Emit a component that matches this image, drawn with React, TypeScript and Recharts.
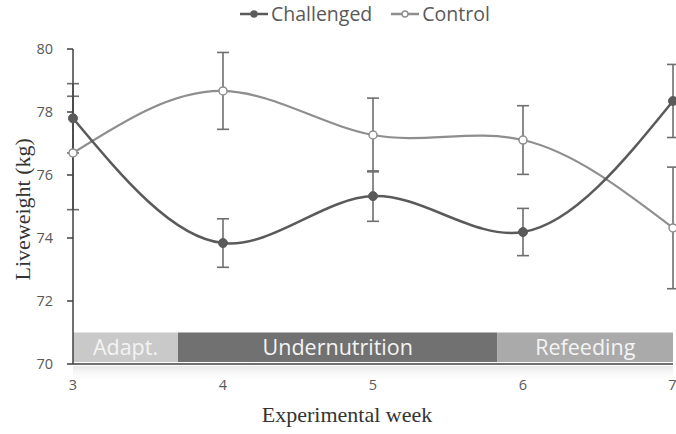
import React from 'react'
import {
  ComposedChart,
  Line,
  XAxis,
  YAxis,
  ErrorBar,
  ReferenceArea,
} from 'recharts'

const weeks = [3, 4, 5, 6, 7]
const challenged = [77.8, 73.84, 75.33, 74.19, 78.35]
const challengedErr = [1.1, 0.77, 0.8, 0.75, 1.16]
const control = [76.7, 78.67, 77.27, 77.11, 74.32]
const controlErr = [1.8, 1.22, 1.17, 1.09, 1.93]

const yTicks = [70, 72, 74, 76, 78, 80]

const phases = [
  { name: 'Adapt.', from: 3, to: 3.7, fill: '#c9c9c9' },
  { name: 'Undernutrition', from: 3.7, to: 5.83, fill: '#717171' },
  { name: 'Refeeding', from: 5.83, to: 7, fill: '#aaaaaa' },
]

const data = weeks.map((w, i) => ({
  week: w,
  challenged: challenged[i],
  challengedErr: challengedErr[i],
  control: control[i],
  controlErr: controlErr[i],
}))

const DARK = '#5a5a5a'
const LIGHT = '#8e8e8e'
const sans = '"Open Sans", "Noto Sans", sans-serif'
const serif = '"Liberation Serif", "DejaVu Serif", serif'

function LegendRow() {
  const item = (label: string, color: string, filled: boolean) => (
    <span style={{ display: 'inline-flex', alignItems: 'center', marginRight: 19 }}>
      <svg width={28} height={12}>
        <line x1={0} y1={6} x2={28} y2={6} stroke={color} strokeWidth={2.5} />
        <circle cx={14} cy={6} r={3} fill={filled ? color : '#fff'} stroke={color} strokeWidth={1.3} />
      </svg>
      <span style={{ marginLeft: 3 }}>{label}</span>
    </span>
  )
  return (
    <div
      style={{
        position: 'absolute',
        left: 240,
        top: 0,
        height: 28,
        fontFamily: sans,
        fontSize: 19.5,
        lineHeight: '28px',
        color: '#595959',
        display: 'flex',
        alignItems: 'center',
        whiteSpace: 'nowrap',
      }}
    >
      {item('Challenged', DARK, true)}
      {item('Control', LIGHT, false)}
    </div>
  )
}

export default function App() {
  return (
    <div style={{ position: 'absolute', left: 0, top: 0, width: 676, height: 434, background: '#fff' }}>
      <LegendRow />
      <ComposedChart
        width={676}
        height={434}
        data={data}
        margin={{ top: 49, right: 3, bottom: 0, left: 0 }}
      >
        <defs>
          <linearGradient id="refl" x1="0" y1="0" x2="0" y2="1">
            <stop offset="0%" stopColor="#d4d4d4" stopOpacity={0.55} />
            <stop offset="100%" stopColor="#ffffff" stopOpacity={0} />
          </linearGradient>
        </defs>
        {phases.map((p) => (
          <ReferenceArea
            key={p.name}
            x1={p.from}
            x2={p.to}
            y1={70.06}
            y2={71}
            fill={p.fill}
            fillOpacity={1}
            stroke="none"
            label={{
              value: p.name,
              position: 'center',
              fill: '#f4f4f4',
              fontSize: 21.5,
              fontFamily: sans,
            }}
          />
        ))}
        {phases.map((p) => (
          <ReferenceArea
            key={p.name + '-r'}
            x1={p.from}
            x2={p.to}
            y1={69.4}
            y2={69.94}
            fill="url(#refl)"
            fillOpacity={1}
            stroke="none"
            ifOverflow="visible"
          />
        ))}
        <XAxis
          dataKey="week"
          type="number"
          domain={[3, 7]}
          ticks={weeks}
          height={70}
          tickLine={false}
          axisLine={{ stroke: '#404040', strokeWidth: 1.5 }}
          tick={{ fill: '#595959', fontSize: 14.5, fontFamily: sans }}
          tickMargin={10}
          label={{
            value: 'Experimental week',
            position: 'insideBottom',
            offset: 12,
            dx: -26,
            fill: '#333',
            fontSize: 22,
            fontFamily: serif,
          }}
        />
        <YAxis
          type="number"
          domain={[70, 80]}
          ticks={yTicks}
          width={73}
          tickSize={6}
          tickLine={{ stroke: '#404040', strokeWidth: 1.5 }}
          axisLine={{ stroke: '#404040', strokeWidth: 1.5 }}
          tick={{ fill: '#595959', fontSize: 14.5, fontFamily: sans }}
          tickMargin={14}
          label={{
            value: 'Liveweight (kg)',
            angle: -90,
            position: 'insideLeft',
            offset: 22,
            dy: 74,
            fill: '#333',
            fontSize: 22,
            fontFamily: serif,
          }}
        />
        <Line
          type="natural"
          dataKey="control"
          stroke={LIGHT}
          strokeWidth={2.2}
          dot={{ r: 4, fill: '#fff', stroke: LIGHT, strokeWidth: 1.5 }}
          isAnimationActive={false}
        >
          <ErrorBar dataKey="controlErr" width={6} stroke="#6e6e6e" strokeWidth={1.6} direction="y" />
        </Line>
        <Line
          type="natural"
          dataKey="challenged"
          stroke={DARK}
          strokeWidth={2.5}
          dot={{ r: 4.5, fill: DARK, stroke: DARK, strokeWidth: 1 }}
          isAnimationActive={false}
        >
          <ErrorBar dataKey="challengedErr" width={6} stroke="#6e6e6e" strokeWidth={1.6} direction="y" />
        </Line>
      </ComposedChart>
    </div>
  )
}
